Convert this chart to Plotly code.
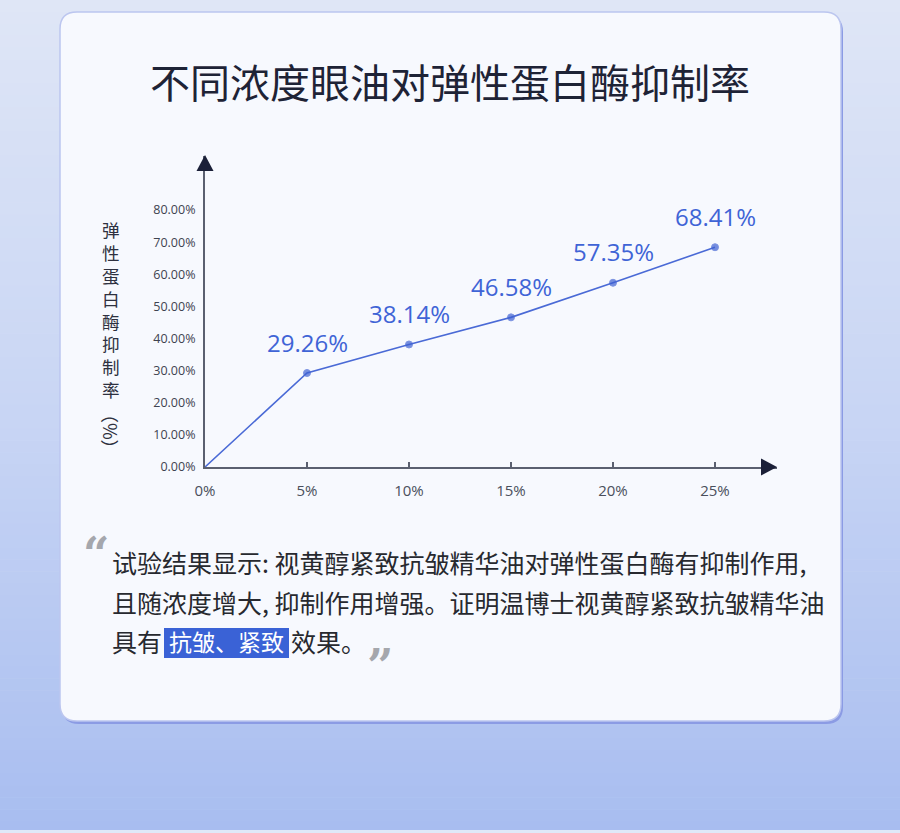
import plotly.graph_objects as go

W, H = 900, 833

# ---------------- data ----------------
concentration = [0, 5, 10, 15, 20, 25]
inhibition = [0, 29.26, 38.14, 46.58, 57.35, 68.41]
x_tick_vals = [0, 5, 10, 15, 20, 25]
x_tick_text = ["0%", "5%", "10%", "15%", "20%", "25%"]
y_tick_vals = [0, 10, 20, 30, 40, 50, 60, 70, 80]
y_tick_text = ["0.00%", "10.00%", "20.00%", "30.00%", "40.00%",
               "50.00%", "60.00%", "70.00%", "80.00%"]
title_text = "不同浓度眼油对弹性蛋白酶抑制率"
y_title_chars = "弹性蛋白酶抑制率"
y_title_unit = "（%）"
para_line1 = "试验结果显示: 视黄醇紧致抗皱精华油对弹性蛋白酶有抑制作用,"
para_line2 = "且随浓度增大, 抑制作用增强。证明温博士视黄醇紧致抗皱精华油"
para_line3_a = "具有"
para_highlight = "抗皱、紧致"
para_line3_b = "效果。"

CJK = "Noto Sans CJK SC"
NUM = "Open Sans"


def px(x):
    return x / W


def py(y):
    return 1 - y / H


def lerp(c1, c2, t):
    return tuple(round(a + (b - a) * t) for a, b in zip(c1, c2))


def rrect(x0, y0, x1, y1, r):
    return (f"M {px(x0 + r)},{py(y0)} L {px(x1 - r)},{py(y0)} "
            f"Q {px(x1)},{py(y0)} {px(x1)},{py(y0 + r)} "
            f"L {px(x1)},{py(y1 - r)} Q {px(x1)},{py(y1)} {px(x1 - r)},{py(y1)} "
            f"L {px(x0 + r)},{py(y1)} Q {px(x0)},{py(y1)} {px(x0)},{py(y1 - r)} "
            f"L {px(x0)},{py(y0 + r)} Q {px(x0)},{py(y0)} {px(x0 + r)},{py(y0)} Z")


shapes = []
# background vertical gradient
stops = [(0.0, (223, 230, 246)), (0.5, (200, 213, 244)), (1.0, (168, 189, 240))]
nb = 70
bh = H / nb
for i in range(nb):
    t = (i + 0.5) / nb
    for j in range(len(stops) - 1):
        if stops[j][0] <= t <= stops[j + 1][0]:
            tt = (t - stops[j][0]) / (stops[j + 1][0] - stops[j][0])
            c = lerp(stops[j][1], stops[j + 1][1], tt)
            break
    shapes.append(dict(type="rect", xref="paper", yref="paper", layer="below",
                       x0=0, x1=1, y0=max(0, py((i + 1) * bh + 0.5)), y1=py(i * bh),
                       fillcolor=f"rgb{c}", line=dict(width=0)))
# bottom light strip
shapes.append(dict(type="rect", xref="paper", yref="paper", layer="below",
                   x0=0, x1=1, y0=0, y1=py(830), fillcolor="#dfe9f8", line=dict(width=0)))
# card shadow + card
shapes.append(dict(type="path", xref="paper", yref="paper", layer="below",
                   path=rrect(62, 15, 843, 724, 17), fillcolor="#8b9be4", line=dict(width=0)))
shapes.append(dict(type="path", xref="paper", yref="paper", layer="below",
                   path=rrect(60, 12, 841, 721, 17), fillcolor="#f7f9fe",
                   line=dict(color="#bcc6ef", width=1.5)))
# highlight box
shapes.append(dict(type="rect", xref="paper", yref="paper", layer="below",
                   x0=px(164), x1=px(289), y0=py(658), y1=py(628),
                   fillcolor="#3a62d6", line=dict(width=0)))
# axis arrows
shapes.append(dict(type="path", xref="paper", yref="paper", layer="above",
                   path=f"M {px(205)},{py(155)} L {px(196.5)},{py(171)} L {px(213.5)},{py(171)} Z",
                   fillcolor="#1b2038", line=dict(width=0)))
shapes.append(dict(type="path", xref="paper", yref="paper", layer="above",
                   path=f"M {px(777)},{py(467)} L {px(761)},{py(458.5)} L {px(761)},{py(475.5)} Z",
                   fillcolor="#1b2038", line=dict(width=0)))

fig = go.Figure()
fig.add_trace(go.Scatter(
    x=concentration, y=inhibition, mode="lines+markers",
    line=dict(color="#4a6ad6", width=1.6),
    marker=dict(size=[0, 7, 7, 7, 7, 7], color="#3d60d2"),
    hoverinfo="skip", cliponaxis=False, showlegend=False))

annotations = []
for c, v in zip(concentration[1:], inhibition[1:]):
    annotations.append(dict(x=c, y=v, xref="x", yref="y", text=f"{v:.2f}%",
                            showarrow=False, yshift=31,
                            font=dict(family=NUM, size=24, color="#3f64d6")))
annotations.append(dict(x=0.5, y=py(81), xref="paper", yref="paper", text=title_text,
                        showarrow=False, xanchor="center", yanchor="middle",
                        font=dict(family=CJK, size=40, color="#1e2336")))
annotations.append(dict(x=px(111), y=py(309), xref="paper", yref="paper",
                        text="<br>".join(y_title_chars), showarrow=False,
                        xanchor="center", yanchor="middle",
                        font=dict(family=CJK, size=17.6, color="#2e3140")))
annotations.append(dict(x=px(111), y=py(431), xref="paper", yref="paper",
                        text=y_title_unit, textangle=90, showarrow=False,
                        xanchor="center", yanchor="middle",
                        font=dict(family=CJK, size=18, color="#2e3140")))
para_font = dict(family=CJK, size=25, color="#27292f")
annotations.append(dict(x=px(110), y=py(562), xref="paper", yref="paper", text=para_line1,
                        showarrow=False, xanchor="left", yanchor="middle", font=para_font))
annotations.append(dict(x=px(110), y=py(602), xref="paper", yref="paper", text=para_line2,
                        showarrow=False, xanchor="left", yanchor="middle", font=para_font))
annotations.append(dict(x=px(110), y=py(641), xref="paper", yref="paper", text=para_line3_a,
                        showarrow=False, xanchor="left", yanchor="middle", font=para_font))
annotations.append(dict(x=px(226.5), y=py(641), xref="paper", yref="paper", text=para_highlight,
                        showarrow=False, xanchor="center", yanchor="middle",
                        font=dict(family=CJK, size=23, color="#ffffff")))
annotations.append(dict(x=px(289), y=py(641), xref="paper", yref="paper", text=para_line3_b,
                        showarrow=False, xanchor="left", yanchor="middle", font=para_font))
annotations.append(dict(x=px(96), y=py(554), xref="paper", yref="paper", text="“",
                        showarrow=False, xanchor="center", yanchor="middle",
                        font=dict(family="DejaVu Serif", size=46, color="#a5a7ad",
                                  weight="bold")))
annotations.append(dict(x=px(380), y=py(666), xref="paper", yref="paper", text="”",
                        showarrow=False, xanchor="center", yanchor="middle",
                        font=dict(family="DejaVu Serif", size=46, color="#a5a7ad",
                                  weight="bold")))

xmax = (777 - 205) / 20.4
ymax = (467 - 156) / 3.2125
fig.update_layout(
    width=W, height=H, margin=dict(l=0, r=0, t=0, b=0, pad=0, autoexpand=False),
    paper_bgcolor="#dde5f6", plot_bgcolor="rgba(0,0,0,0)",
    shapes=shapes, annotations=annotations, showlegend=False,
    xaxis=dict(domain=[px(205), px(777)], range=[0, xmax], showgrid=False, zeroline=False,
               automargin=False,
               showline=True, linecolor="#5b6070", linewidth=2,
               tickvals=x_tick_vals, ticktext=x_tick_text, ticks="inside", ticklen=5,
               tickwidth=1.5, tickcolor="#5b6070", ticklabelstandoff=9,
               tickfont=dict(family=NUM, size=15, color="#4a4f5c"), fixedrange=True),
    yaxis=dict(domain=[py(467), py(156)], range=[0, ymax], showgrid=False, zeroline=False,
               automargin=False,
               showline=True, linecolor="#5b6070", linewidth=2,
               tickvals=y_tick_vals, ticktext=y_tick_text, ticks="",
               ticklabelstandoff=5,
               tickfont=dict(family=NUM, size=12.5, color="#3e4350"), fixedrange=True),
)

fig.write_html(
    "out.html",
    config={"displayModeBar": False},
    post_script="document.body.style.margin='0';document.body.style.overflow='hidden';",
)
